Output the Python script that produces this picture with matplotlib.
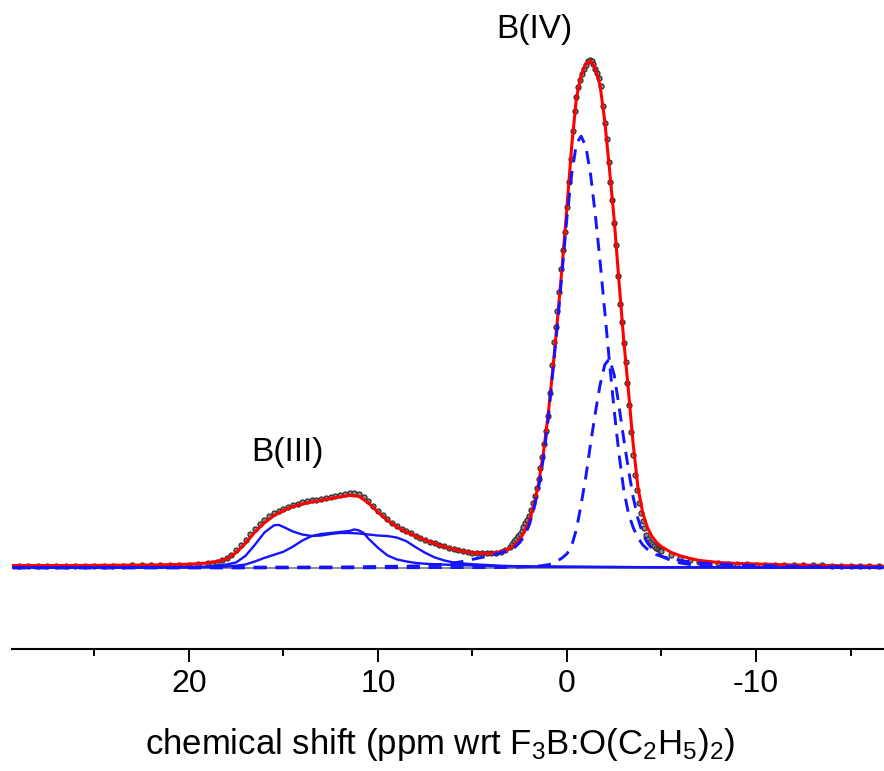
import matplotlib
matplotlib.use("Agg")
import matplotlib.pyplot as plt
from matplotlib.ticker import FixedLocator

plt.rcParams['font.family'] = ['Liberation Sans', 'DejaVu Sans']
plt.rcParams['mathtext.fontset'] = 'custom'
plt.rcParams['mathtext.rm'] = 'Liberation Sans'
plt.rcParams['mathtext.default'] = 'rm'
plt.rcParams['axes.unicode_minus'] = False

# --- observed spectrum (ppm, intensity; B(IV) max = 100) ---
shift_obs = [29.0, 28.5, 28.0, 27.5, 27.0, 26.5, 26.0, 25.5, 25.0, 24.5,
             24.0, 23.5, 23.0, 22.5, 22.0, 21.5, 21.0, 20.5, 20.0, 19.5,
             19.0, 18.75, 18.5, 18.25, 18.0, 17.75, 17.5, 17.25, 17.0, 16.75,
             16.5, 16.25, 16.0, 15.75, 15.5, 15.25, 15.0, 14.75, 14.5, 14.25,
             14.0, 13.75, 13.5, 13.25, 13.0, 12.75, 12.5, 12.25, 12.0, 11.75,
             11.5, 11.25, 11.0, 10.75, 10.5, 10.25, 10.0, 9.75, 9.5, 9.25,
             9.0, 8.75, 8.5, 8.25, 8.0, 7.75, 7.5, 7.25, 7.0, 6.75,
             6.5, 6.25, 6.0, 5.75, 5.5, 5.25, 5.0, 4.75, 4.5, 4.25,
             4.0, 3.75, 3.5, 3.25,
             3.0, 2.9, 2.8, 2.7, 2.6, 2.5, 2.4, 2.3, 2.2, 2.1,
             2.0, 1.9, 1.8, 1.7, 1.6, 1.5, 1.4, 1.3, 1.2, 1.1,
             1.0, 0.9, 0.8, 0.7, 0.6, 0.5, 0.4, 0.3, 0.2, 0.1,
             0.0, -0.1, -0.2, -0.3, -0.4, -0.5, -0.6, -0.7, -0.8, -0.9,
             -1.0, -1.1, -1.2, -1.3, -1.4, -1.5, -1.6, -1.7, -1.8, -1.9,
             -2.0, -2.1, -2.2, -2.3, -2.4, -2.5, -2.6, -2.7, -2.8, -2.9,
             -3.0, -3.1, -3.2, -3.3, -3.4, -3.5, -3.6, -3.7, -3.8, -3.9,
             -4.0, -4.1, -4.2, -4.3, -4.4, -4.5, -4.6, -4.7, -4.8, -4.9,
             -5.0, -5.5, -6.0, -6.5, -7.0, -7.5, -8.0, -8.5, -9.0, -9.5,
             -10.0, -10.5, -11.0, -11.5, -12.0, -12.5, -13.0, -13.5, -14.0, -14.5,
             -15.0, -15.5, -16.0, -16.5]
obs = [0.4, 0.4, 0.4, 0.4, 0.4, 0.4, 0.4, 0.4, 0.45, 0.45,
       0.45, 0.45, 0.5, 0.5, 0.5, 0.55, 0.55, 0.6, 0.65, 0.75,
       0.9, 1.0, 1.2, 1.5, 1.9, 2.6, 3.5, 4.5, 5.6, 6.7,
       7.7, 8.7, 9.5, 10.2, 10.8, 11.3, 11.7, 12.1, 12.5, 12.7,
       12.9, 13.1, 13.3, 13.4, 13.6, 13.8, 14.0, 14.2, 14.4, 14.6,
       14.8, 14.8, 14.5, 13.9, 13.1, 12.2, 11.3, 10.4, 9.6, 8.9,
       8.3, 7.7, 7.2, 6.8, 6.4, 5.9, 5.5, 5.2, 4.9, 4.6,
       4.3, 4.0, 3.7, 3.5, 3.3, 3.2, 3.0, 2.95, 2.9, 2.9,
       2.9, 3.0, 3.2, 3.5,
       4.2, 4.7, 5.3, 5.8, 6.3, 6.7, 7.3, 8.0, 8.8, 9.5,
       10.3, 11.5, 12.8, 14.2, 15.8, 17.6, 19.6, 21.8, 24.5, 27.0,
       30.0, 34.5, 40.0, 44.5, 47.5, 50.5, 54.3, 58.8, 62.5, 66.2,
       71.0, 76.0, 80.5, 86.0, 90.0, 92.8, 94.7, 96.1, 97.3, 98.3,
       99.1, 99.7, 100.0, 99.8, 99.2, 98.3, 97.4, 96.5, 94.8, 91.0,
       87.5, 84.5, 80.0, 76.0, 72.5, 68.0, 63.5, 57.5, 52.0, 48.5,
       44.3, 40.5, 36.5, 32.0, 26.8, 22.3, 18.3, 15.3, 12.8, 10.9,
       9.3, 7.9, 6.6, 5.8, 5.2, 4.7, 4.3, 4.0, 3.7, 3.5,
       3.3, 2.5, 1.9, 1.5, 1.2, 1.0, 0.9, 0.8, 0.75, 0.7,
       0.65, 0.6, 0.6, 0.55, 0.55, 0.5, 0.5, 0.5, 0.45, 0.45,
       0.45, 0.4, 0.4, 0.4]

# --- total fit ---
shift_fit = [29.3, 28, 26, 24, 22, 20, 19, 18.5, 18, 17.5, 17, 16.5, 16, 15.5,
             15, 14.5, 14, 13.5, 13, 12.5, 12, 11.5, 11, 10.5, 10, 9.5, 9, 8.5,
             8, 7.5, 7, 6.5, 6, 5.5, 5, 4.5, 4, 3.5, 3, 2.75, 2.5, 2.25, 2,
             1.75, 1.5, 1.25, 1, 0.75, 0.5, 0.25, 0, -0.25, -0.5, -0.75, -1,
             -1.25, -1.5, -1.75, -2, -2.25, -2.5, -2.75, -3, -3.25, -3.5, -3.75,
             -4, -4.25, -4.5, -4.75, -5, -5.5, -6, -6.5, -7, -8, -9, -10, -12,
             -14, -16.7]
fit = [0.5, 0.5, 0.5, 0.55, 0.6, 0.75, 1.0, 1.3, 1.8, 3.0, 4.9, 7.1, 8.9, 10.3,
       11.3, 12.1, 12.6, 13.0, 13.3, 13.7, 14.0, 14.3, 14.1, 12.8, 11.0, 9.4, 8.1, 7.1,
       6.3, 5.5, 4.8, 4.2, 3.7, 3.3, 3.0, 2.9, 2.9, 3.2, 3.9, 4.6, 5.6, 7.1, 9.3,
       12.4, 16.6, 22.5, 30.0, 39.0, 49.0, 59.5, 71.0, 83.0, 92.5, 97.0, 99.3,
       99.8, 98.3, 95.0, 88.0, 78.5, 68.5, 56.5, 45.0, 35.0, 24.5, 16.0,
       11.0, 8.0, 6.2, 5.0, 4.2, 3.1, 2.4, 1.9, 1.5, 1.1, 0.9, 0.8, 0.6,
       0.5, 0.35]

# --- B(III) components (solid) ---
shift_b3 = [29.3, 22, 20, 19, 18.5, 18, 17.5, 17, 16.5, 16, 15.5, 15.25, 15, 14.5,
            14, 13.5, 13, 12.5, 12, 11.5, 11.25, 11, 10.75, 10.5, 10, 9.5, 9, 8.5,
            8, 7.5, 7, 6.5, 6, 5.5, 5, 4.5, 4, 3.5, 3, 2, 0, -5, -16.7]
b3_a = [0.1, 0.15, 0.2, 0.3, 0.45, 0.7, 1.1, 2.4, 4.6, 7.0, 8.4, 8.5, 8.1, 7.2,
        6.6, 6.3, 6.4, 6.7, 6.9, 6.9, 6.85, 6.8, 6.7, 6.6, 6.4, 6.3, 6.0, 5.3,
        4.1, 3.0, 2.1, 1.5, 1.1, 0.9, 0.75, 0.65, 0.55, 0.45, 0.4, 0.3, 0.25, 0.15, 0.08]
b3_b = [0.05, 0.08, 0.1, 0.15, 0.2, 0.3, 0.45, 0.7, 1.3, 2.0, 2.6, 2.9, 3.2, 4.2,
        5.4, 6.3, 6.7, 6.9, 7.1, 7.3, 7.6, 7.4, 6.9, 5.8, 4.0, 2.5, 1.7, 1.3,
        1.0, 0.85, 0.75, 0.68, 0.6, 0.55, 0.5, 0.45, 0.4, 0.37, 0.35, 0.3, 0.25, 0.15, 0.08]

# --- B(IV) components (dashed) ---
shift_b4 = [29.3, 20, 12, 8, 7, 6.5, 6, 5.5, 5, 4.5, 4, 3.5, 3, 2.75, 2.5, 2.25, 2,
            1.75, 1.5, 1.25, 1, 0.75, 0.5, 0.25, 0, -0.25, -0.5, -0.75, -1, -1.25,
            -1.5, -1.75, -2, -2.25, -2.5, -2.75, -3, -3.25, -3.5, -3.75, -4, -4.25,
            -4.5, -4.75, -5, -5.5, -6, -6.5, -7, -8, -9, -10, -12, -14, -16.7]
b4_a = [0.1, 0.15, 0.2, 0.4, 0.6, 0.8, 1.0, 1.3, 1.7, 2.1, 2.5, 3.0, 3.6, 4.1, 5.0,
        6.3, 8.4, 11.6, 15.8, 21.5, 29.0, 38.5, 48.0, 58.5, 69.0, 77.5, 83.5, 85.0,
        83.0, 77.5, 69.5, 60.5, 50.5, 40.5, 31.0, 22.5, 15.5, 10.8, 8.0, 6.0, 4.6,
        3.7, 3.1, 2.6, 2.3, 1.8, 1.5, 1.2, 1.0, 0.75, 0.6, 0.5, 0.35, 0.25, 0.2]
b4_b = [0.0, 0.02, 0.05, 0.08, 0.1, 0.1, 0.1, 0.1, 0.1, 0.1, 0.1, 0.1, 0.15, 0.15,
        0.2, 0.25, 0.3, 0.35, 0.4, 0.5, 0.65, 0.9, 1.4, 2.0, 2.8, 4.4, 7.6, 12.5,
        18.0, 24.5, 30.5, 36.0, 40.0, 41.2, 38.0, 32.0, 25.5, 19.5, 14.0, 9.8, 6.8,
        5.0, 3.8, 2.9, 2.3, 1.5, 1.0, 0.7, 0.5, 0.3, 0.2, 0.15, 0.1, 0.1, 0.05]

fig = plt.figure(figsize=(8.84, 7.71), dpi=100)
ax = fig.add_axes([0.0132, 0.1582, 0.9868, 0.8418])

ax.axhline(0, color='#8c8c8c', lw=1.4, zorder=1)
ax.plot(shift_obs, obs, ls='none', marker='o', ms=3.6, mfc='#8a8a8a',
        mec='#2e2e2e', mew=0.9, zorder=2)
ax.plot(shift_fit, fit, color='#ff0000', lw=2.2, zorder=3)
blue = '#1414ff'
ax.plot(shift_b3, b3_a, color=blue, lw=1.7, zorder=4)
ax.plot(shift_b3, b3_b, color=blue, lw=1.7, zorder=4)
ax.plot(shift_b4, b4_a, color=blue, lw=2.1, ls=(0, (4.5, 3)), zorder=5)
ax.plot(shift_b4, b4_b, color=blue, lw=2.1, ls=(0, (4.5, 3)), zorder=5)

ax.text(1.73, 105.9, 'B(IV)', fontsize=24, ha='center', va='center')
ax.text(14.78, 22.8, 'B(III)', fontsize=24, ha='center', va='center')

ax.set_xlim(29.37, -16.77)
ax.set_ylim(-15.94, 111.8)

for side in ('left', 'right', 'top'):
    ax.spines[side].set_visible(False)
ax.spines['bottom'].set_linewidth(1.5)
ax.set_yticks([])
ax.xaxis.set_major_locator(FixedLocator([20, 10, 0, -10]))
ax.xaxis.set_minor_locator(FixedLocator([25, 15, 5, -5, -15]))
ax.tick_params(axis='x', which='major', direction='out', length=9.5, width=1.4,
               labelsize=23, pad=5)
ax.tick_params(axis='x', which='minor', direction='out', length=5, width=1.4)
ax.set_xlabel('chemical shift (ppm wrt F$_3$B:O(C$_2$H$_5$)$_2$)', fontsize=25)
ax.xaxis.set_label_coords(0.4916, -0.118)

fig.savefig('out.png', dpi=100)
